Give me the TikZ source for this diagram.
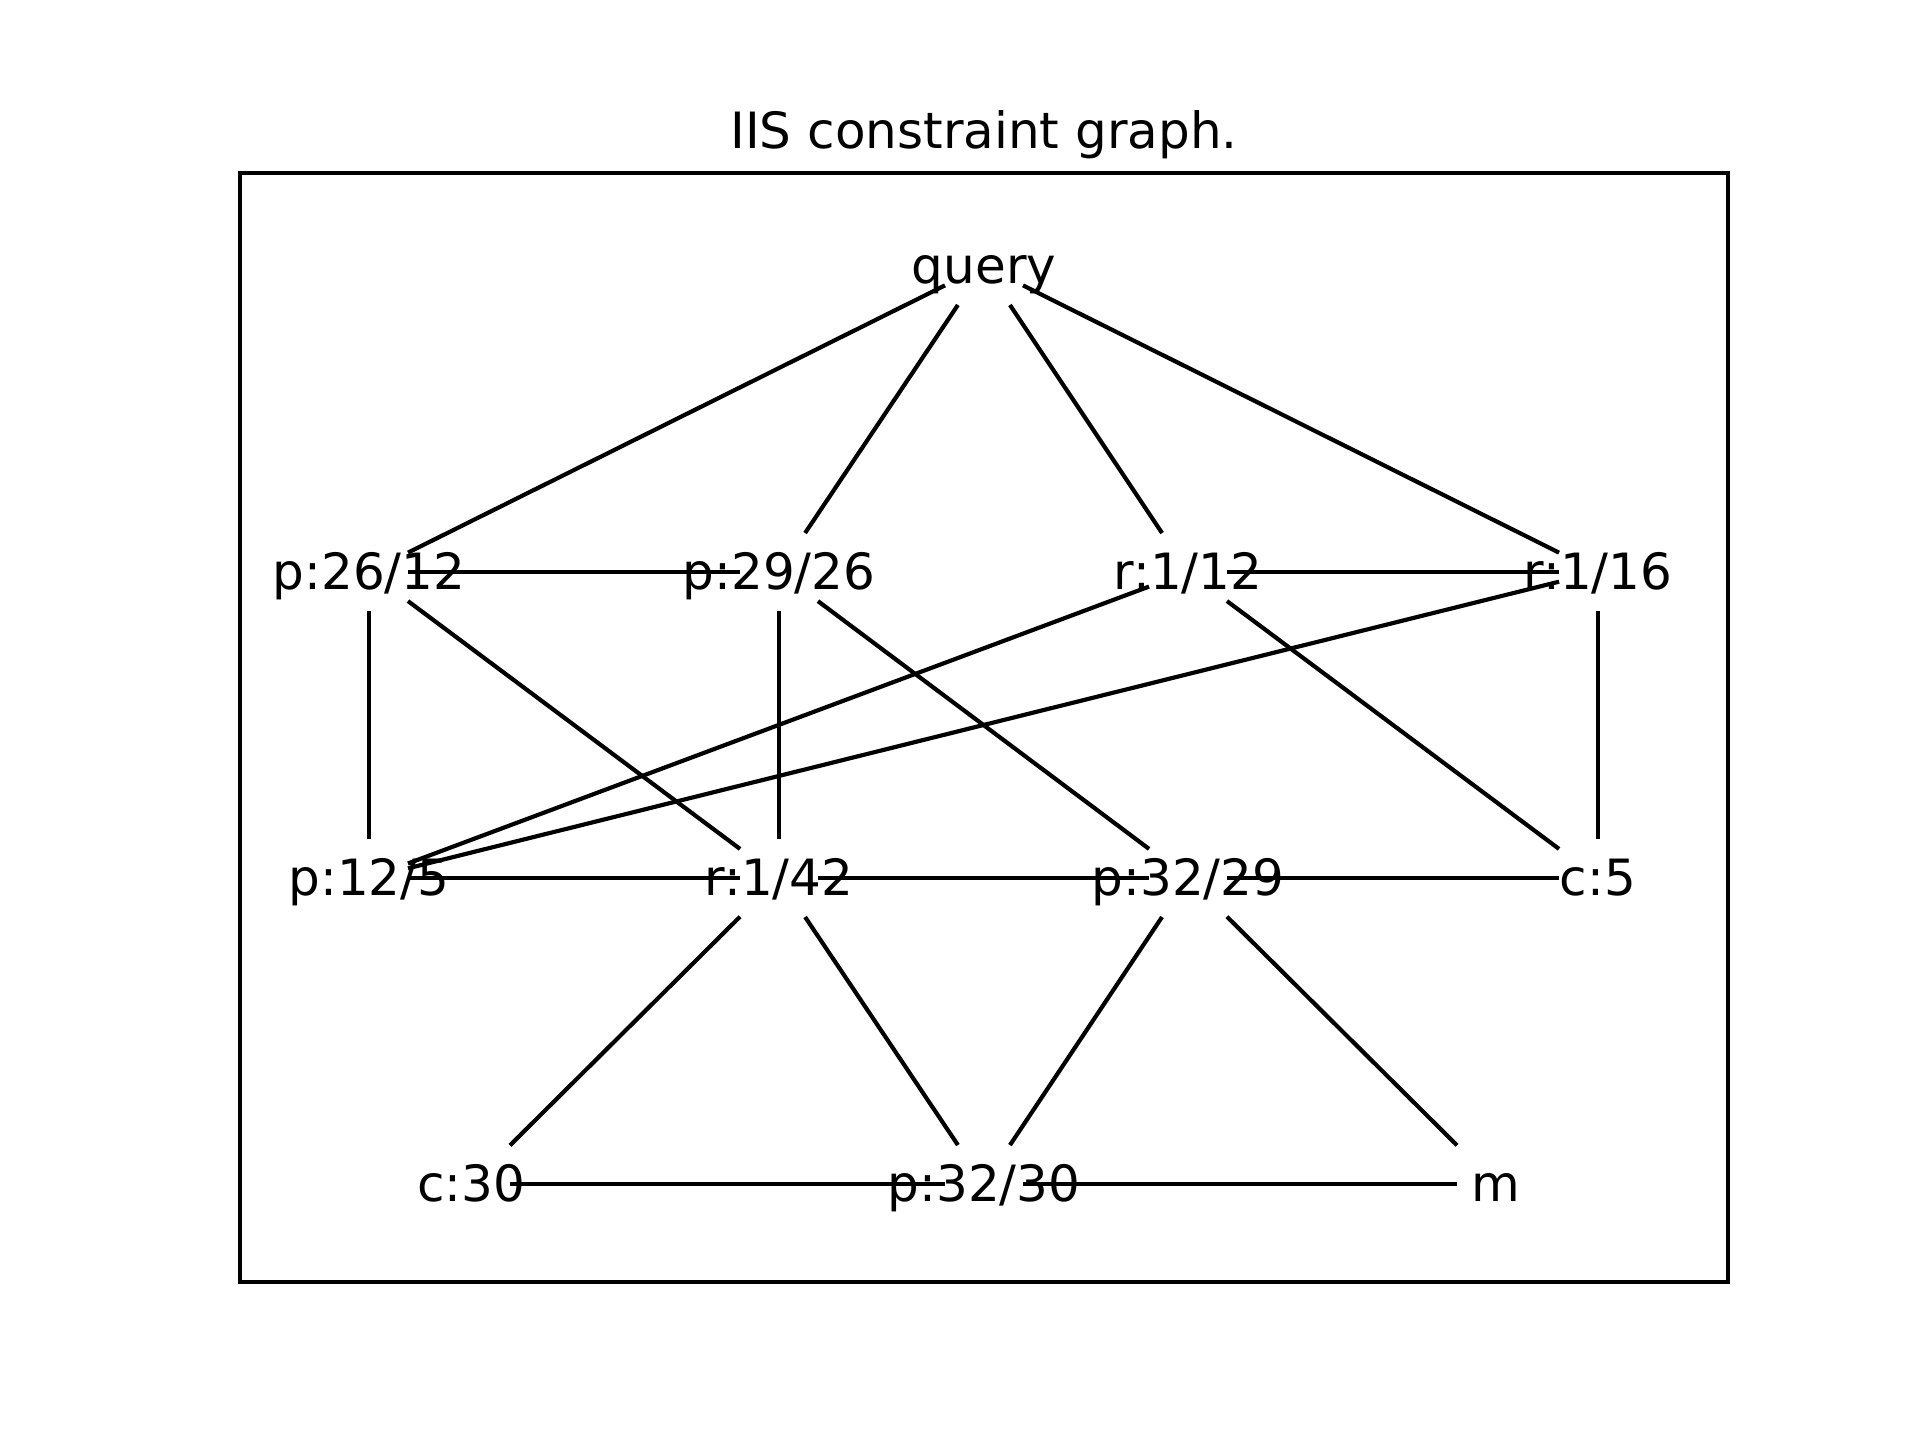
\documentclass[tikz,border=0pt]{standalone}
\usepackage{fontspec}
\setmainfont{DejaVu Sans}
\begin{document}
\begin{tikzpicture}[x=0.24pt,y=-0.24pt,
  sq/.style={shape=rectangle, inner sep=0pt, outer sep=0pt, minimum width=18.7pt, minimum height=18.7pt},
  lbl/.style={font=\fontsize{12pt}{14pt}\selectfont, inner sep=0pt, anchor=base, yshift=-4.3pt},
  edge/.style={line width=1pt}]
\useasboundingbox (0,0) rectangle (1920,1440);
\draw[line width=0.8pt] (240,173) rectangle (1728,1282);
\node[font=\fontsize{12pt}{14pt}\selectfont, inner sep=0pt, anchor=base] (title) at (984,148) {IIS constraint graph.};
% node positions (invisible square markers)
\node[sq] (query) at (984,266) {};
\node[sq] (p2612) at (369,572) {};
\node[sq] (p2926) at (779,572) {};
\node[sq] (r112) at (1188,572) {};
\node[sq] (r116) at (1598,572) {};
\node[sq] (p125) at (369,878) {};
\node[sq] (r142) at (779,878) {};
\node[sq] (p3229) at (1188,878) {};
\node[sq] (c5) at (1598,878) {};
\node[sq] (c30) at (471,1184) {};
\node[sq] (p3230) at (984,1184) {};
\node[sq] (m) at (1496,1184) {};
% labels
\foreach \n/\t in {query/{query}, p2612/{p:26/12}, p2926/{p:29/26}, r112/{r:1/12}, r116/{r:1/16},
  p125/{p:12/5}, r142/{r:1/42}, p3229/{p:32/29}, c5/{c:5}, c30/{c:30}, p3230/{p:32/30}, m/{m}}
  \node[lbl] (\n-t) at (\n.center) {\t};
% edges
\foreach \a/\b in {query/p2612, query/p2926, query/r112, query/r116,
  p2612/p2926, r112/r116,
  p2612/p125, p2612/r142, p2926/r142, p2926/p3229, r112/p125, r116/p125, r112/c5, r116/c5,
  p125/r142, r142/p3229, p3229/c5,
  r142/c30, r142/p3230, p3229/p3230, p3229/m,
  c30/p3230, p3230/m}
  \draw[edge] (\a) -- (\b);
\end{tikzpicture}
\end{document}
